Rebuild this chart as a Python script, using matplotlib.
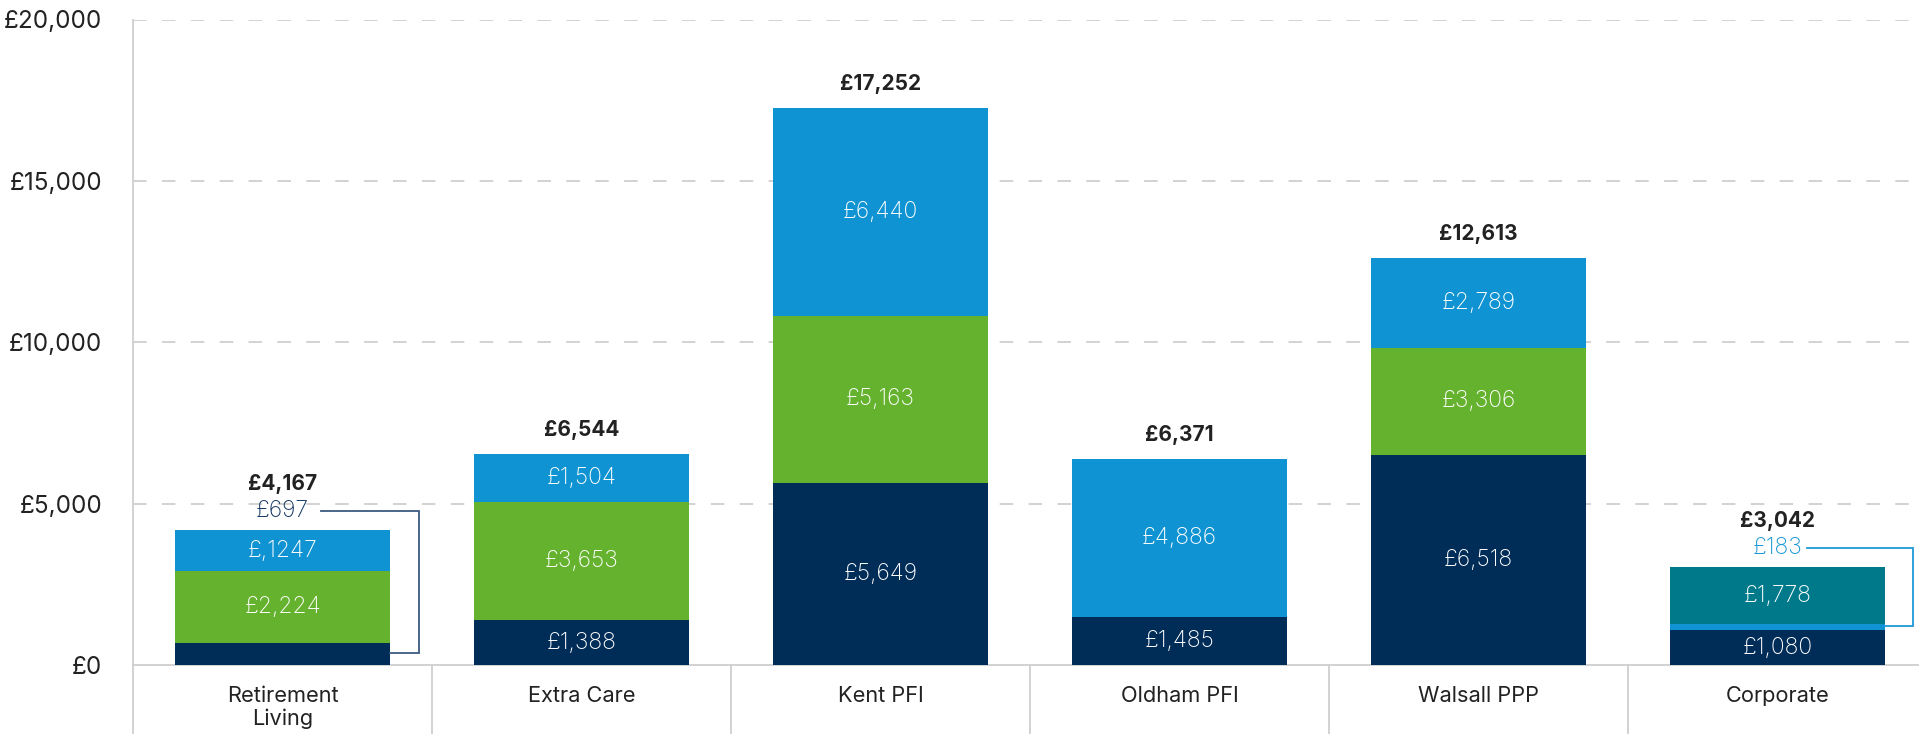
import matplotlib
matplotlib.use("Agg")
import matplotlib.pyplot as plt
from matplotlib.transforms import blended_transform_factory
import numpy as np

plt.rcParams['font.family'] = ['Inter', 'DejaVu Sans']

categories = ["Retirement\nLiving", "Extra Care", "Kent PFI", "Oldham PFI", "Walsall PPP", "Corporate"]
dark_vals = [697, 1388, 5649, 1485, 6518, 1080]
green_vals = [2224, 3653, 5163, 0, 3306, 0]
blue_vals = [1247, 1504, 6440, 4886, 2789, 183]
teal_vals = [0, 0, 0, 0, 0, 1778]
totals = ["£4,167", "£6,544", "£17,252", "£6,371", "£12,613", "£3,042"]
dark_labels = ["£697", "£1,388", "£5,649", "£1,485", "£6,518", "£1,080"]
green_labels = ["£2,224", "£3,653", "£5,163", "", "£3,306", ""]
blue_labels = ["£,1247", "£1,504", "£6,440", "£4,886", "£2,789", "£183"]
teal_labels = ["", "", "", "", "", "£1,778"]
yticks = [0, 5000, 10000, 15000, 20000]
ytick_labels = ["£0", "£5,000", "£10,000", "£15,000", "£20,000"]

NAVY = "#002C58"
GREEN = "#65B22E"
BLUE = "#0F93D2"
TEAL = "#007A8A"
GRID = "#CFCFCF"
TEXT = "#222222"

fig = plt.figure(figsize=(19.19, 7.34), dpi=100)
ax = fig.add_axes([133/1919, 69/734, 1794/1919, 645.5/734])

x = np.arange(len(categories))
w = 0.72
dark = np.array(dark_vals, float)
green = np.array(green_vals, float)
blue = np.array(blue_vals, float)
teal = np.array(teal_vals, float)

ax.bar(x, dark, w, color=NAVY, zorder=3)
ax.bar(x, green, w, bottom=dark, color=GREEN, zorder=3)
blue_bottom = dark + green
ax.bar(x, blue, w, bottom=blue_bottom, color=BLUE, zorder=3)
teal_bottom = blue_bottom + blue
ax.bar(x, teal, w, bottom=teal_bottom, color=TEAL, zorder=3)

fs_seg = 16.5
SEGW = 'light'
for i in range(len(categories)):
    if i != 0:
        ax.text(x[i], dark[i]/2, dark_labels[i], ha='center', va='center',
                color='white', fontsize=fs_seg, fontweight=SEGW, zorder=5)
    if green[i] > 0:
        ax.text(x[i], dark[i] + green[i]/2, green_labels[i], ha='center', va='center',
                color='white', fontsize=fs_seg, fontweight=SEGW, zorder=5)
    if i != 5 and blue[i] > 0:
        ax.text(x[i], blue_bottom[i] + blue[i]/2, blue_labels[i], ha='center', va='center',
                color='white', fontsize=fs_seg, fontweight=SEGW, zorder=5)
    if teal[i] > 0:
        ax.text(x[i], teal_bottom[i] + teal[i]/2, teal_labels[i], ha='center', va='center',
                color='white', fontsize=fs_seg, fontweight=SEGW, zorder=5)

top = dark + green + blue + teal
callout_y = {0: top[0] + 600, 5: top[5] + 590}
# Retirement: dark segment callout
i = 0
ly = callout_y[i]
ax.text(x[i], ly, dark_labels[i], ha='center', va='center', color="#143862",
        fontsize=fs_seg, fontweight=SEGW, zorder=5)
xr = x[i] + w/2
xe = x[i] + 0.456
xs = x[i] + 0.129
ym = dark[i]/2 + 20
ax.plot([xs, xe, xe, xr], [ly, ly, ym, ym], color="#3D5A80",
        lw=1.3, zorder=4, solid_joinstyle='miter')
# Corporate: blue segment callout
i = 5
ly = callout_y[i]
ax.text(x[i], ly, blue_labels[i], ha='center', va='center', color="#1897D4",
        fontsize=fs_seg, fontweight=SEGW, zorder=5)
xr = x[i] + w/2
xe = x[i] + 0.453
xs = x[i] + 0.10
ym = blue_bottom[i] + blue[i]/2 + 30
ax.plot([xs, xe, xe, xr], [ly, ly, ym, ym], color="#1E9AD6", lw=1.3, zorder=4,
        solid_joinstyle='miter')

total_y = top.copy()
total_y[0] = callout_y[0]
total_y[5] = callout_y[5]
for i in range(len(categories)):
    off = 12 if i in (0, 5) else 10
    ax.annotate(totals[i], (x[i], total_y[i]), xytext=(0, off), textcoords='offset points',
                ha='center', va='bottom', fontsize=15, fontweight='bold', color=TEXT, zorder=5)

ax.set_ylim(0, 20000)
ax.set_xlim(-0.5, 5.5)
ax.set_yticks(yticks)
ax.set_yticklabels(ytick_labels)
ax.set_xticks(x)
ax.set_xticklabels(categories, linespacing=1.15)
ax.tick_params(axis='y', length=0, pad=22, labelsize=17.5, labelcolor=TEXT)
ax.tick_params(axis='x', length=0, pad=15, labelsize=15.7, labelcolor=TEXT)

for s in ['top', 'right']:
    ax.spines[s].set_visible(False)
ax.spines['left'].set_color(GRID)
ax.spines['left'].set_linewidth(1.3)
ax.spines['bottom'].set_color(GRID)
ax.spines['bottom'].set_linewidth(1.3)

for yv in yticks[1:]:
    ax.axhline(yv, color=GRID, lw=1.3, dashes=(7.5, 8.5), zorder=1)

trans = blended_transform_factory(ax.transData, ax.transAxes)
for b in np.arange(-0.5, 5.0, 1.0):
    ax.plot([b, b], [0, -0.2], transform=trans, color=GRID, lw=1.3, clip_on=False, zorder=1)

fig.savefig("out.png", dpi=100)
